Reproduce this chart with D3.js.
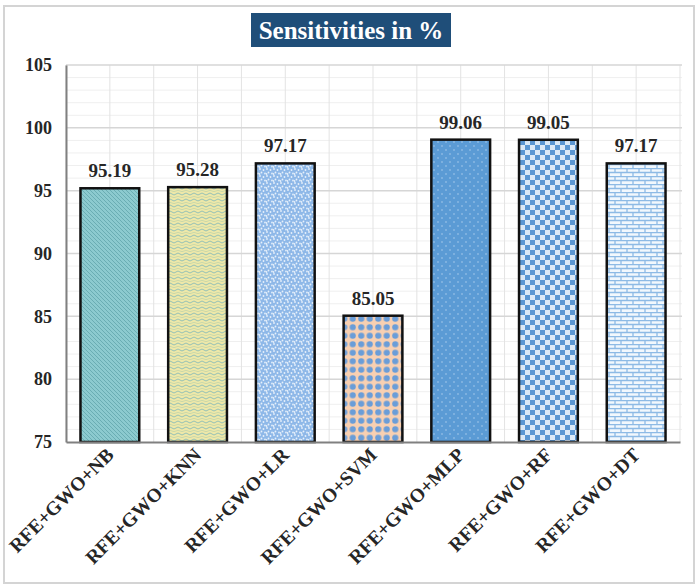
<!DOCTYPE html>
<html>
<head>
<meta charset="utf-8">
<script src="https://cdn.jsdelivr.net/npm/d3@7"></script>
<style>
  html, body { margin: 0; padding: 0; background: #fff; }
  svg { display: block; }
</style>
</head>
<body>
<svg id="chart" width="700" height="588"></svg>
<script>
const categories = ["RFE+GWO+NB", "RFE+GWO+KNN", "RFE+GWO+LR", "RFE+GWO+SVM", "RFE+GWO+MLP", "RFE+GWO+RF", "RFE+GWO+DT"];
const values = [95.19, 95.28, 97.17, 85.05, 99.06, 99.05, 97.17];
const valueLabels = ["95.19", "95.28", "97.17", "85.05", "99.06", "99.05", "97.17"];
const yTicks = [75, 80, 85, 90, 95, 100, 105];
const titleText = "Sensitivities in %";
const patternIds = ["pNB", "pKNN", "pLR", "pSVM", "pMLP", "pRF", "pDT"];

const svg = d3.select("#chart");
const serif = "'Liberation Serif', 'Times New Roman', serif";

// frame
svg.append("rect").attr("x", 4).attr("y", 6).attr("width", 690).attr("height", 577)
  .attr("fill", "#fff").attr("stroke", "#d4d4d4").attr("stroke-width", 2);

// patterns
const defs = svg.append("defs");
function pat(id, w, h) {
  return defs.append("pattern").attr("id", id).attr("patternUnits", "userSpaceOnUse")
    .attr("width", w).attr("height", h);
}
// NB: teal with diagonal hatching
{
  const p = pat("pNB", 4, 4);
  p.append("rect").attr("width", 4).attr("height", 4).attr("fill", "#8ccacf");
  p.append("path").attr("d", "M-1,-1 L5,5 M-1,3 L1,5 M3,-1 L5,1").attr("stroke", "#66a9b0").attr("stroke-width", 0.9);
}
// KNN: yellow with waves
{
  const p = pat("pKNN", 8, 6);
  p.append("rect").attr("width", 8).attr("height", 6).attr("fill", "#eee8a8");
  p.append("path").attr("d", "M0,2 Q2,0 4,2 T8,2").attr("fill", "none").attr("stroke", "#95c0b6").attr("stroke-width", 1);
  p.append("path").attr("d", "M0,5 Q2,3.6 4,5 T8,5").attr("fill", "none").attr("stroke", "#c2d4aa").attr("stroke-width", 0.8);
}
// LR: light blue with white specks
{
  const p = pat("pLR", 7, 7);
  p.append("rect").attr("width", 7).attr("height", 7).attr("fill", "#8eb8e8");
  [[1,1],[4.5,2],[2.5,4.5],[6,5.5],[0.5,6]].forEach(([x,y]) =>
    p.append("circle").attr("cx", x).attr("cy", y).attr("r", 0.9).attr("fill", "#e6f0fb"));
}
// SVM: peach with blue circles
{
  const p = pat("pSVM", 8.5, 8.5);
  p.append("rect").attr("width", 8.5).attr("height", 8.5).attr("fill", "#f8d0b2");
  p.append("circle").attr("cx", 4.25).attr("cy", 4.25).attr("r", 3.1).attr("fill", "#6a9dd8");
}
// MLP: blue with light dots
{
  const p = pat("pMLP", 8, 8);
  p.append("rect").attr("width", 8).attr("height", 8).attr("fill", "#5b9bd5");
  p.append("circle").attr("cx", 2).attr("cy", 2).attr("r", 0.8).attr("fill", "#a9cbed");
  p.append("circle").attr("cx", 6).attr("cy", 6).attr("r", 0.8).attr("fill", "#a9cbed");
}
// RF: checkerboard
{
  const p = pat("pRF", 10, 10);
  p.append("rect").attr("width", 10).attr("height", 10).attr("fill", "#dce9f7");
  p.append("rect").attr("x", 0).attr("y", 0).attr("width", 5).attr("height", 5).attr("fill", "#5b96d2");
  p.append("rect").attr("x", 5).attr("y", 5).attr("width", 5).attr("height", 5).attr("fill", "#5b96d2");
}
// DT: bricks
{
  const p = pat("pDT", 12, 8);
  p.append("rect").attr("width", 12).attr("height", 8).attr("fill", "#f2f8fd");
  p.append("path").attr("d", "M0,0.5 H12 M0,4.5 H12 M3,0.5 V4.5 M9,4.5 V8.5")
    .attr("stroke", "#8dbae5").attr("stroke-width", 1.3).attr("fill", "none");
}

// scales
const x = d3.scaleBand().domain(categories).range([66, 680]).paddingInner(0.33).paddingOuter(0.165);
const xFull = d3.scaleBand().domain(categories).range([66, 680]).padding(0);
const y = d3.scaleLinear().domain([75, 105]).range([442, 65]);

// minor horizontal grid
const g = svg.append("g");
g.selectAll("line.minor").data(d3.range(75, 106, 1).filter(v => v % 5 !== 0)).join("line")
  .attr("x1", 66).attr("x2", 682).attr("y1", d => y(d)).attr("y2", d => y(d))
  .attr("stroke", "#efefef").attr("stroke-width", 1);
// vertical grid at half bands
const vLines = [];
categories.forEach(c => { vLines.push(xFull(c)); vLines.push(xFull(c) + xFull.bandwidth() / 2); });
vLines.push(680);
g.selectAll("line.v").data(vLines).join("line")
  .attr("x1", d => d).attr("x2", d => d).attr("y1", 65).attr("y2", 442)
  .attr("stroke", "#e3e3e3").attr("stroke-width", 1);
// major horizontal grid
g.selectAll("line.major").data(yTicks.filter(v => v !== 75)).join("line")
  .attr("x1", 66).attr("x2", 682).attr("y1", d => y(d)).attr("y2", d => y(d))
  .attr("stroke", "#d6d6d6").attr("stroke-width", 1.5);

// y axis
const yAxis = svg.append("g").attr("transform", "translate(66,0)")
  .call(d3.axisLeft(y).tickValues(yTicks).tickSize(0).tickPadding(14));
yAxis.attr("font-family", serif);
yAxis.select(".domain").attr("stroke", "#808080").attr("stroke-width", 2);
yAxis.selectAll("text").attr("font-family", serif).attr("font-weight", "bold")
  .attr("font-size", 18).attr("fill", "#262626");

// bars
svg.append("g").selectAll("rect.bar").data(values).join("rect")
  .attr("x", (d, i) => x(categories[i]))
  .attr("y", d => y(d))
  .attr("width", x.bandwidth())
  .attr("height", d => y(75) - y(d))
  .attr("fill", (d, i) => `url(#${patternIds[i]})`)
  .attr("stroke", "#111").attr("stroke-width", 2.5);

// x axis
const xAxis = svg.append("g").attr("transform", "translate(0,442)")
  .call(d3.axisBottom(x).tickSize(0).tickPadding(0));
xAxis.attr("font-family", serif);
xAxis.select(".domain").attr("stroke", "#808080").attr("stroke-width", 2);
xAxis.selectAll("text")
  .attr("font-family", serif).attr("font-weight", "bold").attr("font-size", 19.5).attr("fill", "#262626")
  .attr("text-anchor", "end").attr("dy", 0).attr("y", 0)
  .attr("transform", "translate(5,14) rotate(-45)");

// value labels
svg.append("g").selectAll("text.val").data(values).join("text")
  .attr("x", (d, i) => x(categories[i]) + x.bandwidth() / 2)
  .attr("y", d => y(d) - 11)
  .attr("text-anchor", "middle")
  .attr("font-family", serif).attr("font-weight", "bold").attr("font-size", 19).attr("fill", "#262626")
  .text((d, i) => valueLabels[i]);

// title
svg.append("rect").attr("x", 251).attr("y", 13).attr("width", 200).attr("height", 34).attr("fill", "#1f4e79");
svg.append("text").attr("x", 351).attr("y", 39).attr("text-anchor", "middle")
  .attr("font-family", serif).attr("font-weight", "bold").attr("font-size", 25).attr("fill", "#fff")
  .text(titleText);
</script>
</body>
</html>
